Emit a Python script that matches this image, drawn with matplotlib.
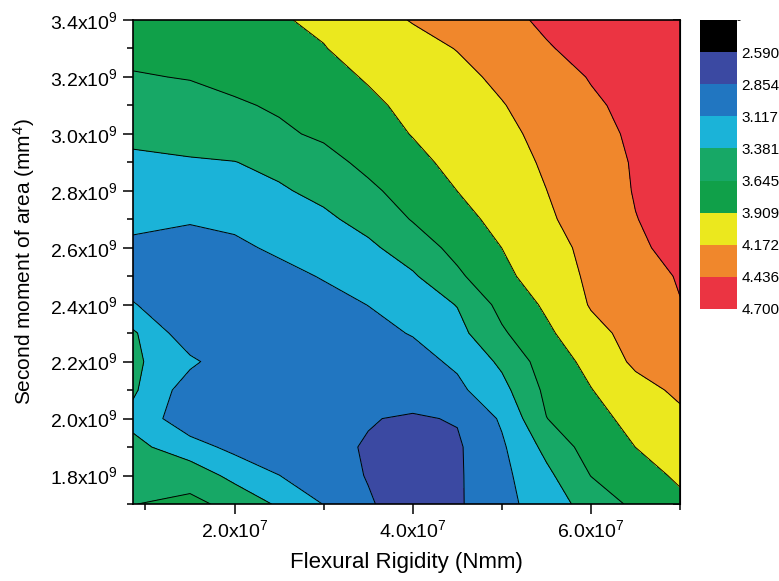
import numpy as np
import matplotlib
matplotlib.use("Agg")
import matplotlib.pyplot as plt
from matplotlib.colors import ListedColormap, BoundaryNorm
from matplotlib.ticker import FixedLocator, MultipleLocator

plt.rcParams['font.family'] = ['Liberation Sans', 'DejaVu Sans']
plt.rcParams['mathtext.fontset'] = 'custom'
plt.rcParams['mathtext.rm'] = 'Liberation Sans'
plt.rcParams['mathtext.it'] = 'Liberation Sans:italic'

# grid: flexural rigidity (Nmm) x second moment of area (mm^4)
rigidity = np.array([0.86, 1.5, 2.0, 2.5, 3.0, 3.5, 4.0, 4.5, 5.0, 5.5, 6.0, 6.5, 7.0]) * 1e7
moment = np.array([1.7, 1.8, 1.9, 2.0, 2.1, 2.2, 2.3, 2.4, 2.5, 2.6,
                   2.7, 2.8, 2.9, 3.0, 3.1, 3.2, 3.3, 3.4]) * 1e9

# rows from bottom (1.7e9) to top (3.4e9)
response = np.array([
    [3.64, 3.70, 3.58, 3.34, 3.11, 2.88, 2.72, 2.82, 3.04, 3.24, 3.49, 3.70, 3.85],
    [3.58, 3.55, 3.30, 3.12, 2.98, 2.84, 2.74, 2.82, 3.05, 3.32, 3.65, 3.80, 3.95],
    [3.46, 3.22, 3.05, 2.96, 2.90, 2.84, 2.76, 2.82, 3.08, 3.45, 3.76, 3.91, 4.00],
    [3.30, 2.95, 2.90, 2.88, 2.87, 2.865, 2.83, 2.87, 3.15, 3.64, 3.82, 3.99, 4.12],
    [3.42, 2.98, 2.90, 2.88, 2.88, 2.89, 2.96, 3.06, 3.30, 3.70, 3.90, 4.08, 4.22],
    [3.43, 3.17, 2.95, 2.92, 2.92, 2.96, 3.03, 3.16, 3.43, 3.77, 3.98, 4.22, 4.30],
    [3.42, 2.94, 2.92, 2.94, 2.99, 3.05, 3.13, 3.30, 3.61, 3.86, 4.10, 4.25, 4.36],
    [3.13, 2.96, 2.95, 2.99, 3.05, 3.12, 3.24, 3.39, 3.72, 3.95, 4.19, 4.30, 4.43],
    [3.02, 2.98, 3.00, 3.06, 3.13, 3.24, 3.35, 3.60, 3.84, 4.05, 4.21, 4.36, 4.45],
    [3.09, 3.06, 3.08, 3.15, 3.24, 3.33, 3.51, 3.72, 3.91, 4.09, 4.23, 4.40, 4.50],
    [3.15, 3.13, 3.16, 3.23, 3.33, 3.47, 3.66, 3.83, 3.98, 4.14, 4.27, 4.43, 4.52],
    [3.22, 3.24, 3.28, 3.35, 3.45, 3.60, 3.74, 3.91, 4.03, 4.17, 4.30, 4.45, 4.53],
    [3.33, 3.36, 3.375, 3.45, 3.57, 3.70, 3.84, 3.98, 4.08, 4.20, 4.31, 4.46, 4.55],
    [3.44, 3.47, 3.53, 3.61, 3.68, 3.79, 3.92, 4.03, 4.12, 4.23, 4.35, 4.48, 4.56],
    [3.52, 3.57, 3.62, 3.67, 3.74, 3.86, 3.97, 4.07, 4.16, 4.28, 4.40, 4.50, 4.57],
    [3.63, 3.655, 3.70, 3.76, 3.83, 3.93, 4.02, 4.11, 4.22, 4.33, 4.45, 4.53, 4.59],
    [3.70, 3.74, 3.79, 3.84, 3.90, 4.00, 4.09, 4.18, 4.31, 4.42, 4.50, 4.57, 4.62],
    [3.74, 3.80, 3.84, 3.89, 3.95, 4.08, 4.185, 4.29, 4.38, 4.47, 4.53, 4.59, 4.64],
])

levels = [2.326, 2.590, 2.854, 3.117, 3.381, 3.645, 3.909, 4.172, 4.436, 4.700]
level_labels = ["2.590", "2.854", "3.117", "3.381", "3.645", "3.909", "4.172", "4.436", "4.700"]
band_colors = ["#000000", "#3b49a2", "#2176c1", "#1bb3d8", "#17a866",
               "#10a049", "#ebe81e", "#f0872c", "#eb3442"]

x_ticks = [2.0e7, 4.0e7, 6.0e7]
x_tick_labels = ["2.0x10$^7$", "4.0x10$^7$", "6.0x10$^7$"]
y_ticks = [1.8e9, 2.0e9, 2.2e9, 2.4e9, 2.6e9, 2.8e9, 3.0e9, 3.2e9, 3.4e9]
y_tick_labels = ["1.8x10$^9$", "2.0x10$^9$", "2.2x10$^9$", "2.4x10$^9$", "2.6x10$^9$",
                 "2.8x10$^9$", "3.0x10$^9$", "3.2x10$^9$", "3.4x10$^9$"]

W, H = 779, 581
fig = plt.figure(figsize=(W / 100, H / 100), dpi=100)
ax = fig.add_axes([133 / W, 1 - 504 / H, 547 / W, 484 / H])
cax = fig.add_axes([700 / W, 1 - 309 / H, 37 / W, 289 / H])

cmap = ListedColormap(band_colors)
norm = BoundaryNorm(levels, cmap.N)
X, Y = np.meshgrid(rigidity, moment)
cf = ax.contourf(X, Y, response, levels=levels, cmap=cmap, norm=norm)
ax.contour(X, Y, response, levels=levels[1:-1], colors="k", linewidths=0.7)

ax.set_xlim(0.86e7, 7.0e7)
ax.set_ylim(1.7e9, 3.4e9)
ax.xaxis.set_major_locator(FixedLocator(x_ticks))
ax.set_xticklabels(x_tick_labels)
ax.xaxis.set_minor_locator(MultipleLocator(1e7))
ax.yaxis.set_major_locator(FixedLocator(y_ticks))
ax.set_yticklabels(y_tick_labels)
ax.yaxis.set_minor_locator(MultipleLocator(1e8))
ax.tick_params(which="both", direction="out", width=1.1, labelsize=14, pad=4)
ax.tick_params(which="major", length=7)
ax.tick_params(which="minor", length=4)
for s in ax.spines.values():
    s.set_linewidth(1.2)

# inward ticks on the top and right edges
top = ax.secondary_xaxis("top")
top.xaxis.set_major_locator(MultipleLocator(1e7))
top.tick_params(direction="in", length=5, width=1.1, labeltop=False)
right = ax.secondary_yaxis("right")
right.yaxis.set_major_locator(MultipleLocator(1e8))
right.tick_params(direction="in", length=5, width=1.1, labelright=False)

ax.set_xlabel("Flexural Rigidity (Nmm)", fontsize=16, labelpad=8)
ax.set_ylabel("Second moment of area (mm$^4$)", fontsize=15, labelpad=9)

cb = fig.colorbar(cf, cax=cax)
cb.outline.set_visible(False)
cax.invert_yaxis()
cb.set_ticks(levels[1:])
cb.set_ticklabels(level_labels)
cax.tick_params(length=0, labelsize=11, pad=3)

fig.savefig("out.png", dpi=100)
